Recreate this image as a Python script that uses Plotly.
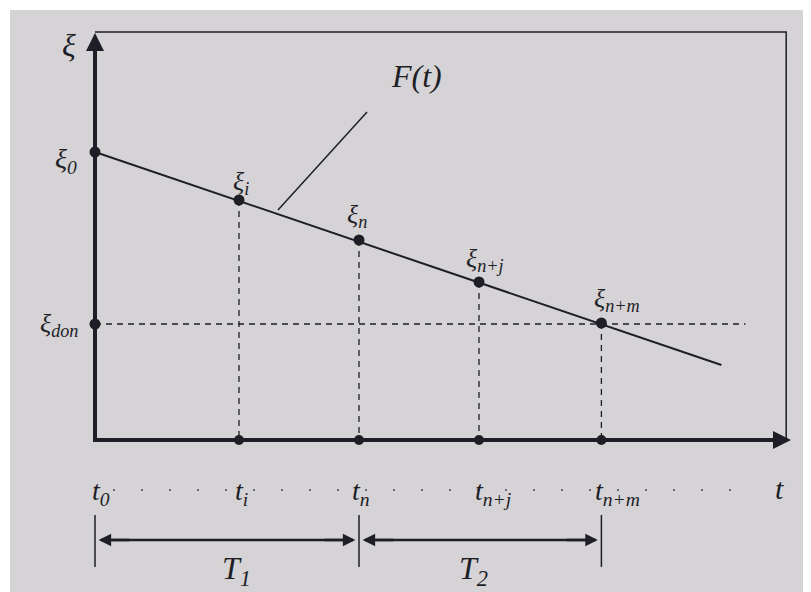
import plotly.graph_objects as go

# ---- data (diagram units) ----
t_labels = ["t<sub>0</sub>", "t<sub>i</sub>", "t<sub>n</sub>", "t<sub>n+j</sub>", "t<sub>n+m</sub>"]
xi_labels = ["ξ<sub>0</sub>", "ξ<sub>i</sub>", "ξ<sub>n</sub>", "ξ<sub>n+j</sub>", "ξ<sub>n+m</sub>"]
t_vals = [0.0, 1.2, 2.2, 3.2, 4.22]
xi_vals = [2.88, 2.40, 2.00, 1.58, 1.17]
xi_don = 1.16
line_end_t = 5.22
line_end_xi = 0.75
t_axis_end = 5.8
xi_axis_end = 4.07
frame_t = 5.76
frame_xi = 4.08
don_end_t = 5.42

INK = "#1e1e26"
BG = "#d5d3d6"
FONT = "Liberation Serif"

fig = go.Figure()

# frame (top and right)
fig.add_trace(go.Scatter(x=[0, frame_t, frame_t], y=[frame_xi, frame_xi, 0], mode="lines",
                         line=dict(color=INK, width=1.5), hoverinfo="skip"))
# axes
fig.add_trace(go.Scatter(x=[0, 0, t_axis_end - 0.1], y=[xi_axis_end - 0.15, 0, 0], mode="lines",
                         line=dict(color=INK, width=4), hoverinfo="skip"))
# dashed verticals
for tv, xv in zip(t_vals[1:], xi_vals[1:]):
    fig.add_trace(go.Scatter(x=[tv, tv], y=[xv, 0], mode="lines",
                             line=dict(color=INK, width=1.3, dash="6px,5px"), hoverinfo="skip"))
# dashed horizontal xi_don
fig.add_trace(go.Scatter(x=[0, don_end_t], y=[xi_don, xi_don], mode="lines",
                         line=dict(color=INK, width=1.3, dash="6px,5px"), hoverinfo="skip"))
# F(t) line
fig.add_trace(go.Scatter(x=[t_vals[0], line_end_t], y=[xi_vals[0], line_end_xi], mode="lines",
                         line=dict(color=INK, width=2), hoverinfo="skip"))
# leader line
fig.add_trace(go.Scatter(x=[1.525, 2.267], y=[2.30, 3.28], mode="lines",
                         line=dict(color=INK, width=1.5), hoverinfo="skip"))
# points on curve
fig.add_trace(go.Scatter(x=t_vals + [0], y=xi_vals + [xi_don], mode="markers",
                         marker=dict(color=INK, size=11), hoverinfo="skip"))
# points on t axis
fig.add_trace(go.Scatter(x=t_vals[1:], y=[0] * 4, mode="markers",
                         marker=dict(color=INK, size=10), hoverinfo="skip"))

# dotted guide line between bottom labels
fig.add_trace(go.Scatter(x=[0.15, 5.3], y=[-0.50, -0.50], mode="lines",
                         line=dict(color="#6a6a72", width=2, dash="2px,26px"), hoverinfo="skip"))

# dimension lines (ticks + shafts)
for tv in [t_vals[0], t_vals[2], t_vals[4]]:
    fig.add_trace(go.Scatter(x=[tv, tv], y=[-0.75, -1.27], mode="lines",
                             line=dict(color=INK, width=1.5), hoverinfo="skip"))
for a, b in [(t_vals[0], t_vals[2]), (t_vals[2], t_vals[4])]:
    fig.add_trace(go.Scatter(x=[a + 0.05, b - 0.05], y=[-1.0, -1.0], mode="lines",
                             line=dict(color=INK, width=2.5), hoverinfo="skip"))

annotations = []
# arrow heads for axes
annotations.append(dict(x=0, y=xi_axis_end, ax=0, ay=xi_axis_end - 0.3, xref="x", yref="y",
                        axref="x", ayref="y", showarrow=True, arrowhead=2, arrowsize=1.2,
                        arrowwidth=3, arrowcolor=INK, text=""))
annotations.append(dict(x=t_axis_end, y=0, ax=t_axis_end - 0.3, ay=0, xref="x", yref="y",
                        axref="x", ayref="y", showarrow=True, arrowhead=2, arrowsize=1.2,
                        arrowwidth=3, arrowcolor=INK, text=""))
# dimension arrow heads
for a, b in [(t_vals[0], t_vals[2]), (t_vals[2], t_vals[4])]:
    for p, q in [(a, b), (b, a)]:
        tip = p + (0.03 if p < q else -0.03)
        tail = p + (0.3 if p < q else -0.3)
        annotations.append(dict(x=tip, y=-1.0, ax=tail, ay=-1.0,
                                xref="x", yref="y", axref="x", ayref="y", showarrow=True,
                                arrowhead=2, arrowsize=1, arrowwidth=2.5, arrowcolor=INK, text=""))

def lab(x, y, text, size=26, xanchor="center"):
    annotations.append(dict(x=x, y=y, xref="x", yref="y", text="<i>" + text + "</i>",
                            showarrow=False, xanchor=xanchor, yanchor="middle",
                            font=dict(family=FONT, size=size, color=INK)))

lab(-0.22, 3.95, "ξ", 32)
lab(-0.24, 2.80, xi_labels[0], 28)
lab(1.22, 2.57, xi_labels[1], 26)
lab(2.18, 2.24, xi_labels[2], 26)
lab(3.25, 1.80, xi_labels[3], 26)
lab(4.35, 1.40, xi_labels[4], 26)
lab(-0.30, 1.15, "ξ<sub>don</sub>", 26)
lab(2.68, 3.64, "F(t)", 32)

for tv, tl, dx in zip(t_vals, t_labels, [0.05, 0.02, 0.02, 0.12, 0.13]):
    lab(tv + dx, -0.52, tl, 28)
lab(5.70, -0.48, "t", 30)
lab(1.18, -1.30, "T<sub>1</sub>", 32)
lab(3.15, -1.30, "T<sub>2</sub>", 32)

fig.update_layout(
    width=803, height=584,
    margin=dict(l=2, r=0, t=2, b=0),
    paper_bgcolor="white", plot_bgcolor=BG,
    showlegend=False,
    annotations=annotations,
    xaxis=dict(range=[-85 / 120, 716 / 120], visible=False, fixedrange=True),
    yaxis=dict(range=[-1.52, 4.30], visible=False, fixedrange=True),
)

fig.write_html("out.html")
